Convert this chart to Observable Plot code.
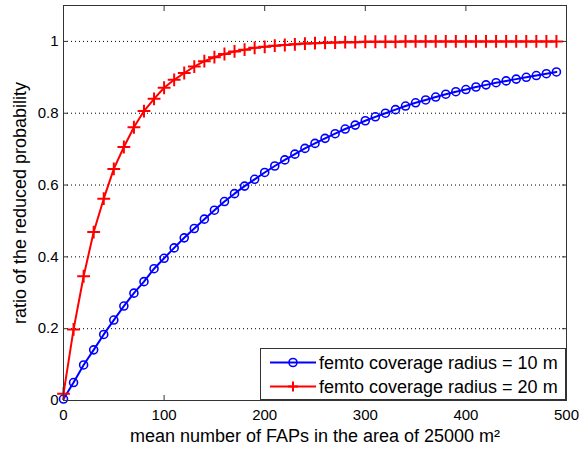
<!DOCTYPE html>
<html>
<head>
<meta charset="utf-8">
<script src="https://cdn.jsdelivr.net/npm/d3@7"></script>
<script src="https://cdn.jsdelivr.net/npm/@observablehq/plot@0.6"></script>
<style>
  html, body { margin: 0; padding: 0; background: #fff; }
  #chart svg { display: block; }
</style>
</head>
<body>
<div id="chart"></div>
<script>
// x positions: mean number of FAPs
const xValues = [0,10,20,30,40,50,60,70,80,90,100,110,120,130,140,150,160,170,180,190,
  200,210,220,230,240,250,260,270,280,290,300,310,320,330,340,350,360,370,380,390,
  400,410,420,430,440,450,460,470,480,490];
// femto coverage radius = 10 m
const r10Values = [0.004,0.05,0.099,0.141,0.184,0.224,0.263,0.299,0.331,0.367,
  0.396,0.425,0.453,0.479,0.505,0.53,0.554,0.576,0.597,0.616,
  0.635,0.653,0.67,0.686,0.702,0.716,0.73,0.743,0.756,0.767,
  0.779,0.79,0.8,0.81,0.82,0.829,0.837,0.845,0.853,0.86,
  0.866,0.873,0.879,0.885,0.89,0.895,0.9,0.905,0.91,0.915];
// femto coverage radius = 20 m
const r20Values = [0.019,0.198,0.346,0.469,0.562,0.645,0.706,0.761,0.806,0.84,
  0.871,0.893,0.912,0.93,0.945,0.956,0.965,0.972,0.977,0.982,
  0.985,0.988,0.99,0.992,0.994,0.995,0.996,0.997,0.998,0.998,
  0.999,0.999,0.999,0.999,1,1,1,1,1,1,
  1,1,1,1,1,1,1,1,1,1];
const seriesNames = ["femto coverage radius = 10 m", "femto coverage radius = 20 m"];
const xTicks = [0,100,200,300,400,500];
const yTicks = [0,0.2,0.4,0.6,0.8,1];
const xLabel = "mean number of FAPs in the area of 25000 m\u00B2";
const yLabel = "ratio of the reduced probability";

const blue = xValues.map((x, i) => ({x, y: r10Values[i]}));
const red = xValues.map((x, i) => ({x, y: r20Values[i]}));

const plot = Plot.plot({
  width: 581,
  height: 456,
  marginLeft: 63,
  marginRight: 15,
  marginTop: 5,
  marginBottom: 56,
  style: {fontFamily: "'Liberation Sans', Arial, sans-serif", fontSize: "15px", color: "#000", background: "#fff"},
  x: {domain: [0, 500]},
  y: {domain: [0, 1.1]},
  marks: [
    Plot.gridY(yTicks.filter(d => d > 0), {stroke: "#000", strokeOpacity: 1, strokeDasharray: "1,3", strokeWidth: 1}),
    Plot.line(blue, {x: "x", y: "y", stroke: "#0000ff", strokeWidth: 2}),
    Plot.dot(blue, {x: "x", y: "y", r: 4, stroke: "#0000ff", strokeWidth: 1.6, fill: "none"}),
    Plot.line(red, {x: "x", y: "y", stroke: "#ff0000", strokeWidth: 2}),
    Plot.dot(red, {x: "x", y: "y", symbol: "plus", r: 4.2, stroke: "#ff0000", strokeWidth: 2}),
    // tick labels
    Plot.axisX(xTicks, {anchor: "bottom", tickSize: 0, tickPadding: 9, fontSize: 15, label: null}),
    Plot.axisY(yTicks, {anchor: "left", tickSize: 0, tickPadding: 5, fontSize: 15, label: null, tickFormat: d => String(d)}),
    // inward tick marks on all four sides
    Plot.axisX(xTicks, {anchor: "bottom", tickSize: 5, dy: -5, text: null, label: null, stroke: "#333"}),
    Plot.axisX(xTicks, {anchor: "top", tickSize: 5, dy: 5, text: null, label: null, stroke: "#333"}),
    Plot.axisY(yTicks, {anchor: "left", tickSize: 5, dx: 5, text: null, label: null, stroke: "#333"}),
    Plot.axisY(yTicks, {anchor: "right", tickSize: 5, dx: -5, text: null, label: null, stroke: "#333"}),
    Plot.frame({stroke: "#333", strokeWidth: 1}),
    // axis titles
    Plot.text([xLabel], {frameAnchor: "bottom", textAnchor: "middle", dy: 41, fontSize: 18, fill: "#000"}),
    Plot.text([yLabel], {frameAnchor: "left", textAnchor: "middle", rotate: -90, dx: -43, fontSize: 18, fill: "#000"})
  ]
});

document.getElementById("chart").appendChild(plot);

// legend (inside the axes, lower right corner)
const sx = plot.scale("x"), sy = plot.scale("y");
const right = sx.range[1], bottom = sy.range[0];
const svg = d3.select(plot);
const boxW = 306, boxH = 52;
const g = svg.append("g")
  .attr("font-family", "'Liberation Sans', Arial, sans-serif")
  .attr("font-size", 18)
  .attr("text-anchor", "start");
g.append("rect")
  .attr("x", right - boxW + 0.5).attr("y", bottom - boxH + 0.5)
  .attr("width", boxW - 1).attr("height", boxH - 1)
  .attr("fill", "#fff").attr("stroke", "#333");
const colors = ["#0000ff", "#ff0000"];
seriesNames.forEach((name, i) => {
  const cy = bottom - boxH + 14.5 + i * 24;
  const lx0 = right - boxW + 10, lx1 = right - boxW + 56, mx = (lx0 + lx1) / 2;
  g.append("line").attr("x1", lx0).attr("x2", lx1).attr("y1", cy).attr("y2", cy)
    .attr("stroke", colors[i]).attr("stroke-width", 2);
  if (i === 0) {
    g.append("circle").attr("cx", mx).attr("cy", cy).attr("r", 4)
      .attr("fill", "none").attr("stroke", colors[i]).attr("stroke-width", 1.6);
  } else {
    g.append("path").attr("d", `M${mx - 5},${cy}H${mx + 5}M${mx},${cy - 5}V${cy + 5}`)
      .attr("stroke", colors[i]).attr("stroke-width", 2);
  }
  g.append("text").attr("x", lx1 + 3).attr("y", cy + 6.5).attr("text-anchor", "start")
    .attr("fill", "#000").text(name);
});
</script>
</body>
</html>
